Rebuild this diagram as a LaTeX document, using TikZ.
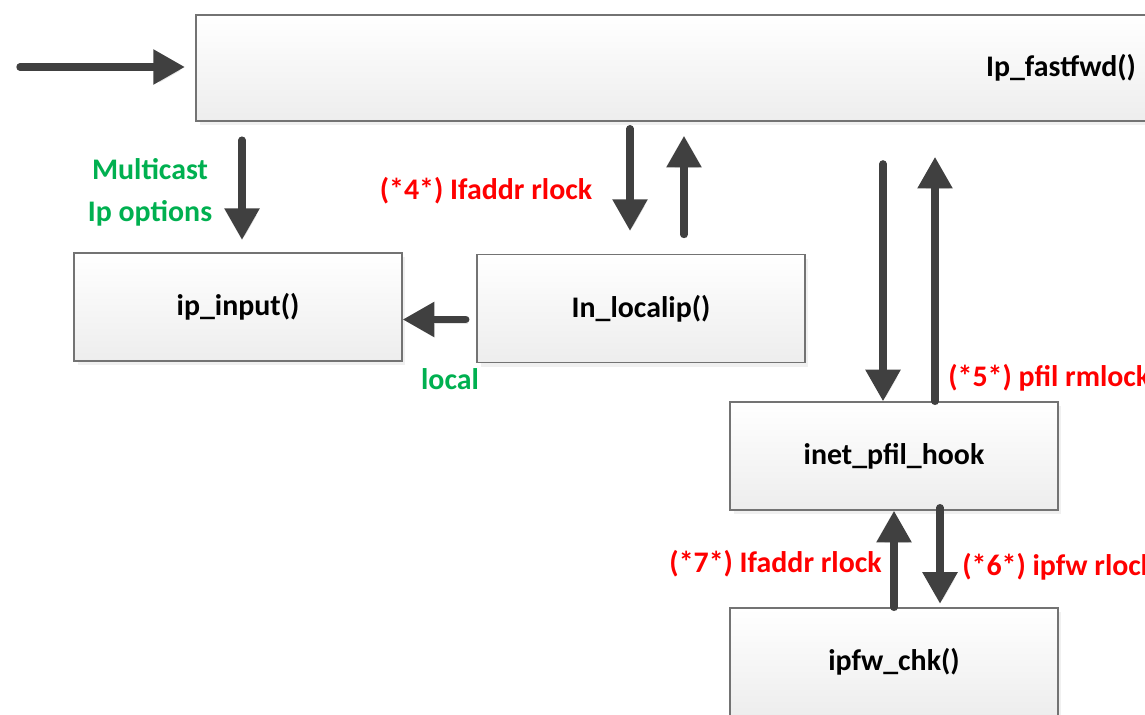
\documentclass[tikz,border=0pt]{standalone}
\usepackage{fontspec}
\setmainfont{Carlito}
\usetikzlibrary{arrows.meta,shadows,calc}
\definecolor{mcgreen}{RGB}{0,176,80}

\begin{document}
\begin{tikzpicture}[x=0.02cm, y=-0.02cm,
    fnbox/.style={draw=black!55, line width=0.8pt, top color=white, bottom color=black!7,
        minimum width=6.56cm, minimum height=2.16cm, inner sep=0pt,
        font=\fontsize{17}{20}\selectfont\bfseries,
        drop shadow={shadow xshift=2pt, shadow yshift=-2.5pt, opacity=0.12}},
    flow/.style={draw=black!75, line width=4.2pt, line cap=round,
        -{Triangle[length=18pt,width=19pt]},
        preaction={draw=black!10, transform canvas={xshift=1.5pt, yshift=-2pt}}},
    redtxt/.style={text=red, inner sep=0pt, font=\fontsize{17}{20}\selectfont\bfseries},
    greentxt/.style={text=mcgreen, inner sep=0pt, align=center, font=\fontsize{17}{24}\selectfont\bfseries}]
    \useasboundingbox (0,0) rectangle (1145,714);
    \clip (0,0) rectangle (1145,714);

    % Draw function boxes
    \node[fnbox, minimum width=34.6cm, minimum height=2.12cm] (fwd) at (1061,68) {Ip\_fastfwd()};
    \node[fnbox] (ipin) at (238,307) {ip\_input()};
    \node[fnbox] (lip) at (641,308.5) {In\_localip()};
    \node[fnbox] (hook) at (894,456) {inet\_pfil\_hook};
    \node[fnbox] (chk) at (894,662) {ipfw\_chk()};

    % Entry arrow
    \coordinate (feed) at (20,67);
    \draw[flow, shorten >=6pt] (feed) -- (feed -| fwd.west);

    % Fast path to ip_input
    \draw[flow, shorten <=10.5pt, shorten >=7pt] ($(ipin.north |- fwd.south)+(4,0)$) -- ($(ipin.north)+(4,0)$);
    \node[greentxt] (mcast) at (150,192) {Multicast\\Ip options};

    % In_localip lookup
    \draw[flow, shorten <=4pt, shorten >=13pt] ($(lip.north |- fwd.south)+(-11,0)$) -- ($(lip.north)+(-11,0)$);
    \draw[flow, shorten <=11pt, shorten >=8pt] ($(lip.north)+(43,0)$) -- ($(lip.north |- fwd.south)+(43,0)$);
    \node[redtxt] (lk4) at (486,191) {(*4*) Ifaddr rlock};
    \draw[flow, shorten <=6pt] ($(lip.west)+(0,11)$) -- ($(lip.west -| ipin.east)+(0,11)$);
    \node[greentxt] (loc) at (450,379) {local};

    % Packet filter hook
    \draw[flow, shorten <=24pt] ($(hook.north |- fwd.south)+(-11,0)$) -- ($(hook.north)+(-11,0)$);
    \draw[flow, shorten >=20pt] ($(hook.north)+(41,0)$) -- ($(hook.north |- fwd.south)+(41,0)$);
    \node[redtxt, anchor=west] (lk5) at (948,378) {(*5*) pfil rmlock};

    % Firewall check
    \draw[flow] (chk.north) -- (hook.south);
    \node[redtxt, anchor=east] (lk7) at (882,564) {(*7*) Ifaddr rlock};
    \draw[flow, shorten >=2pt] ($(hook.south)+(46,-3)$) -- ($(chk.north)+(46,0)$);
    \node[redtxt, anchor=west] (lk6) at (962,567) {(*6*) ipfw rlock};
\end{tikzpicture}
\end{document}
